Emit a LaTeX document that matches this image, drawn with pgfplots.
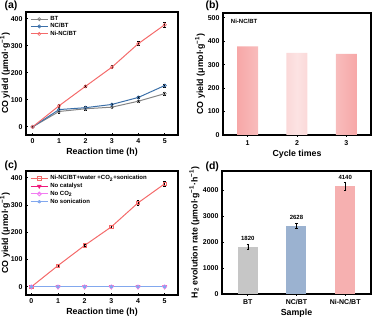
\documentclass[border=0pt]{standalone}
\usepackage{fontspec}
\setmainfont{Liberation Sans}
\usepackage{pgfplots}
\pgfplotsset{compat=1.18}
\definecolor{btgray}{HTML}{858585}
\definecolor{ncblue}{HTML}{3B6FA8}
\definecolor{nired}{HTML}{F46A6A}
\definecolor{magent}{HTML}{F0187A}
\definecolor{violetp}{HTML}{F27CF2}
\definecolor{lblue}{HTML}{82A8EE}
\definecolor{bargray}{HTML}{C6C6C6}
\definecolor{barblue}{HTML}{9BB2D0}
\definecolor{barpink}{HTML}{F6B0B0}
\begin{document}
\begin{tikzpicture}
\useasboundingbox (0pt,0pt) rectangle (376pt,318pt);
\pgfplotsset{
  panel/.style={scale only axis, anchor=south west,
    axis line style={line width=1.1pt}, tick align=inside,
    xtick pos=bottom, ytick pos=left,
    tick style={line width=0.8pt, black}, major tick length=2pt,
    ticklabel style={font=\bfseries\fontsize{7}{8}\selectfont},
    label style={font=\bfseries\fontsize{8.8}{10}\selectfont},
    xlabel style={yshift=2pt},
    /pgf/number format/assume math mode=true,
    /pgf/number format/set thousands separator={},
    scaled y ticks=false,
    error bars/error mark options={rotate=90, line width=0.6pt, mark size=1.3pt, black},
    error bars/error bar style={line width=0.6pt, black},
  },
  lin/.style={line width=1pt, mark size=1.6pt, mark options={solid, line width=0.6pt, fill=white}},
}
% (a)
\begin{axis}[panel, at={(26pt,183pt)}, width=152pt, height=123pt,
  xmin=-0.25, xmax=5.5, ymin=-30, ymax=425,
  xtick={0,...,5}, ytick={0,100,...,400},
  xlabel={Reaction time (h)}, ylabel={CO yield (μmol·g\textsuperscript{−1})},
  ylabel style={at={(axis description cs:-0.138,0.5)}, anchor=center},
  legend style={at={(0.02,0.99)}, anchor=north west, draw=none, fill=none,
    font=\bfseries\fontsize{6}{7}\selectfont, row sep=-2.5pt, inner sep=1pt},
  legend cell align=left]
\addplot[btgray, lin, mark=o, error bars/.cd, y dir=both, y explicit]
  coordinates {(0,0) +- (0,2) (1,57) +- (0,5) (2,67) +- (0,4) (3,73) +- (0,4) (4,95) +- (0,5) (5,123) +- (0,5)};
\addlegendentry{BT}
\addplot[ncblue, lin, mark=o, error bars/.cd, y dir=both, y explicit]
  coordinates {(0,0) +- (0,2) (1,64) +- (0,5) (2,71) +- (0,4) (3,83) +- (0,4) (4,109) +- (0,5) (5,153) +- (0,6)};
\addlegendentry{NC/BT}
\addplot[nired, lin, mark=o, error bars/.cd, y dir=both, y explicit]
  coordinates {(0,0) +- (0,2) (1,78) +- (0,5) (2,150) +- (0,4) (3,221) +- (0,6) (4,308) +- (0,8) (5,378) +- (0,10)};
\addlegendentry{Ni-NC/BT}
\end{axis}
% (b)
\begin{axis}[panel, at={(223pt,183pt)}, width=148pt, height=122pt,
  xmin=0.5, xmax=3.5, ymin=0, ymax=520,
  xtick={1,2,3}, ytick={0,100,...,500},
  xlabel={Cycle times}, ylabel={CO yield (μmol·g\textsuperscript{−1})},
  ylabel style={at={(axis description cs:-0.155,0.5)}, anchor=center},
  ybar, bar width=21pt]
\addplot[draw=none, left color=barpink!95!red, right color=barpink!95!red, middle color=barpink!35]
  coordinates {(1,378) (2,350) (3,346)};
\node[anchor=west, font=\bfseries\fontsize{6}{7}\selectfont] at (rel axis cs:0.03,0.93) {Ni-NC/BT};
\end{axis}
% (c)
\begin{axis}[panel, at={(26pt,23pt)}, width=152pt, height=124pt,
  xmin=-0.2, xmax=5.5, ymin=-30, ymax=425,
  xtick={0,...,5}, ytick={0,100,...,400},
  xlabel={Reaction time (h)}, ylabel={CO yield (μmol·g\textsuperscript{−1})},
  ylabel style={at={(axis description cs:-0.138,0.5)}, anchor=center},
  legend style={at={(0.02,0.99)}, anchor=north west, draw=none, fill=none,
    font=\bfseries\fontsize{6}{7}\selectfont, row sep=-2pt, inner sep=1pt},
  legend cell align=left]
\addplot[nired, lin, mark=square, error bars/.cd, y dir=both, y explicit]
  coordinates {(0,0) +- (0,2) (1,78) +- (0,5) (2,152) +- (0,5) (3,220) +- (0,6) (4,308) +- (0,9) (5,378) +- (0,10)};
\addlegendentry{Ni-NC/BT+water +CO\textsubscript{2}+sonication}
\addplot[magent, line width=1pt, mark=triangle*, mark size=1.8pt, mark options={rotate=180}]
  coordinates {(0,0) (1,0) (2,0) (3,0) (4,0) (5,0)};
\addlegendentry{No catalyst}
\addplot[violetp, line width=1pt, mark=o, mark size=1.8pt, mark options={fill=white}]
  coordinates {(0,0) (1,0) (2,0) (3,0) (4,0) (5,0)};
\addlegendentry{No CO\textsubscript{2}}
\addplot[lblue, line width=1pt, mark=asterisk, mark size=1.6pt]
  coordinates {(0,0) (1,0) (2,0) (3,0) (4,0) (5,0)};
\addlegendentry{No sonication}
\end{axis}
% (d)
\begin{axis}[panel, at={(222pt,24pt)}, width=149pt, height=123pt,
  xmin=-0.53, xmax=2.53, ymin=0, ymax=4730,
  xtick={0,1,2}, xticklabels={BT,NC/BT,Ni-NC/BT}, ytick={0,1000,...,4000},
  xlabel={Sample}, ylabel={H\textsubscript{2} evolution rate (μmol·g\textsuperscript{−1}·h\textsuperscript{−1})},
  ylabel style={at={(axis description cs:-0.185,0.5)}, anchor=center},
  ybar, bar width=20pt, bar shift=0pt]
\addplot[draw=none, fill=bargray, error bars/.cd, y dir=both, y explicit]
  coordinates {(0,1820) +- (0,110)};
\addplot[draw=none, fill=barblue, error bars/.cd, y dir=both, y explicit]
  coordinates {(1,2628) +- (0,90)};
\addplot[draw=none, fill=barpink, error bars/.cd, y dir=both, y explicit]
  coordinates {(2,4140) +- (0,140)};
\node[anchor=south, font=\bfseries\fontsize{6}{7}\selectfont] at (axis cs:0,1920) {1820};
\node[anchor=south, font=\bfseries\fontsize{6}{7}\selectfont] at (axis cs:1,2710) {2628};
\node[anchor=south, font=\bfseries\fontsize{6}{7}\selectfont] at (axis cs:2,4270) {4140};
\end{axis}
\node[anchor=west, font=\bfseries\fontsize{10.5}{12}\selectfont] at (1pt,312pt) {(a)};
\node[anchor=west, font=\bfseries\fontsize{10.5}{12}\selectfont] at (202pt,312pt) {(b)};
\node[anchor=west, font=\bfseries\fontsize{10.5}{12}\selectfont] at (1pt,152pt) {(c)};
\node[anchor=west, font=\bfseries\fontsize{10.5}{12}\selectfont] at (202pt,151pt) {(d)};
\end{tikzpicture}
\end{document}
